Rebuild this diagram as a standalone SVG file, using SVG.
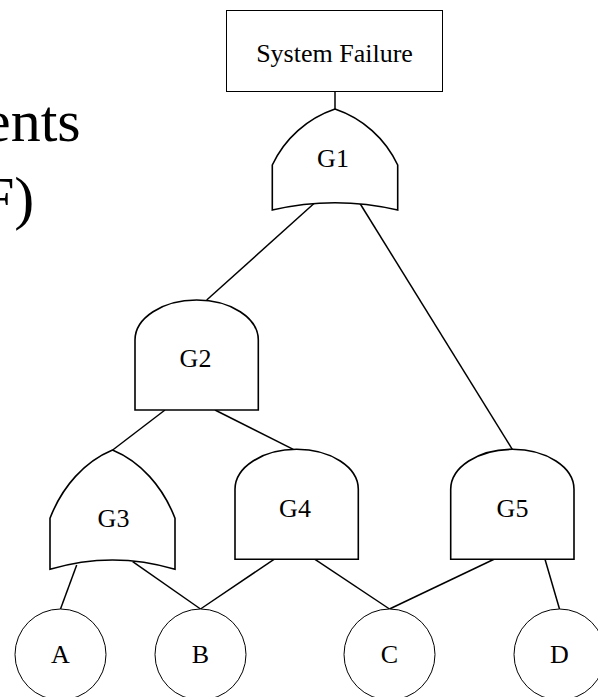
<svg xmlns="http://www.w3.org/2000/svg" width="598" height="697" viewBox="0 0 598 697">
  <style>
    text { font-family: "Liberation Serif", "Times New Roman", serif; fill: #000; }
    .lbl { font-size: 26px; text-anchor: middle; }
    .big { font-size: 60px; }
    .gate { fill: #fff; stroke: #000; stroke-width: 1.6; stroke-linejoin: miter; }
    .evt { fill: #fff; stroke: #000; stroke-width: 1; }
    .box { fill: #fff; stroke: #000; stroke-width: 1; }
    .conn line { stroke: #000; stroke-width: 1.5; }
  </style>
  <rect width="598" height="697" fill="#fff"/>

  <g id="slide-text">
    <text class="big" x="147" y="-14">g</text>
    <text class="big" x="-16" y="141">ents</text>
    <text class="big" x="-19" y="218">F)</text>
  </g>

  <g id="connectors" class="conn">
    <line x1="335" y1="91.5" x2="335" y2="109"/>
    <line x1="314" y1="203.5" x2="206.7" y2="300"/>
    <line x1="360" y1="203.5" x2="512.3" y2="449.3"/>
    <line x1="165" y1="410" x2="112.7" y2="450"/>
    <line x1="215" y1="410" x2="293.3" y2="449.3"/>
    <line x1="76.7" y1="565" x2="60.5" y2="609"/>
    <line x1="132.7" y1="561.7" x2="200.5" y2="609"/>
    <line x1="274" y1="559.3" x2="200.5" y2="609"/>
    <line x1="315" y1="559.3" x2="389.5" y2="609"/>
    <line x1="494" y1="559.3" x2="389.5" y2="609"/>
    <line x1="545" y1="559.3" x2="559.5" y2="609"/>
  </g>

  <g id="top-event">
    <rect class="box" x="226.5" y="10.5" width="216" height="81"/>
    <text class="lbl" x="334.5" y="61.5">System Failure</text>
  </g>

  <g id="G1">
    <path class="gate" d="M272.3,210 L272.3,165 A107,107 0 0 1 335,109 A107,107 0 0 1 397.7,165 L397.7,210 Q335,195.4 272.3,210 Z"/>
    <text class="lbl" x="333" y="166.5">G1</text>
  </g>

  <g id="G2">
    <path class="gate" d="M135,410 L135,340 A61.65,40 0 0 1 258.3,340 L258.3,410 Z"/>
    <text class="lbl" x="195.5" y="367">G2</text>
  </g>

  <g id="G3">
    <path class="gate" d="M50,569.3 L50,518.3 A107,130.5 0 0 1 112.5,450 A107,130.5 0 0 1 175,518.3 L175,569.3 Q112.5,550.7 50,569.3 Z"/>
    <text class="lbl" x="113.5" y="527.3">G3</text>
  </g>

  <g id="G4">
    <path class="gate" d="M235,559.3 L235,489.3 A61.65,40 0 0 1 358.3,489.3 L358.3,559.3 Z"/>
    <text class="lbl" x="295" y="517.3">G4</text>
  </g>

  <g id="G5">
    <path class="gate" d="M450.7,559.3 L450.7,489.3 A61.65,40 0 0 1 574,489.3 L574,559.3 Z"/>
    <text class="lbl" x="512.5" y="517.3">G5</text>
  </g>

  <g id="A">
    <circle class="evt" cx="60.5" cy="654.5" r="45.5"/>
    <text class="lbl" x="60.5" y="662.5">A</text>
  </g>
  <g id="B">
    <circle class="evt" cx="200.5" cy="654.5" r="45.5"/>
    <text class="lbl" x="200.5" y="662.5">B</text>
  </g>
  <g id="C">
    <circle class="evt" cx="389.5" cy="654.5" r="45.5"/>
    <text class="lbl" x="389.5" y="662.5">C</text>
  </g>
  <g id="D">
    <circle class="evt" cx="559.5" cy="654.5" r="45.5"/>
    <text class="lbl" x="559.5" y="662.5">D</text>
  </g>
</svg>
